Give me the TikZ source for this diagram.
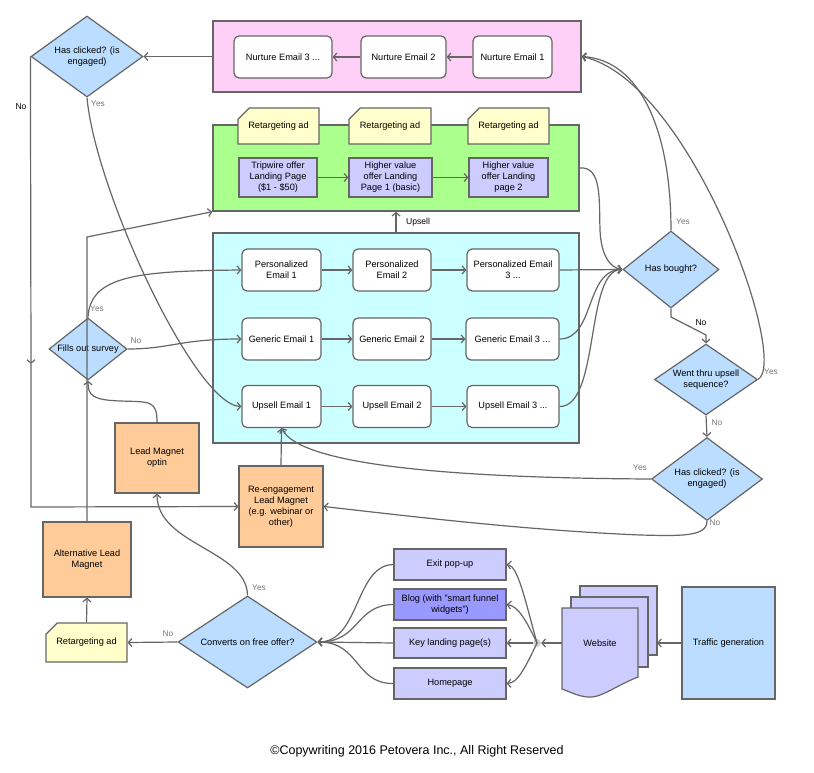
\documentclass[tikz,border=0pt]{standalone}
\usepackage{fontspec}
\setmainfont{Liberation Sans}
\usetikzlibrary{arrows.meta,shapes.geometric,shapes.misc}
\definecolor{ln}{HTML}{666666}
\definecolor{pinkf}{HTML}{FFD0F7}
\definecolor{greenf}{HTML}{ABFF8C}
\definecolor{cyanf}{HTML}{CCFFFF}
\definecolor{lavf}{HTML}{CCCCFF}
\definecolor{blogf}{HTML}{9999FF}
\definecolor{orf}{HTML}{FFCC99}
\definecolor{yelf}{HTML}{FFFFCC}
\definecolor{bluef}{HTML}{BBDDFF}
\definecolor{lblc}{HTML}{777777}
\begin{document}
\begin{tikzpicture}[x=1pt,y=-1pt]
\tikzset{
  every node/.style={font=\fontsize{9.2}{11}\selectfont, text=black},
  lnk/.style={draw=ln, line width=1.2pt, -{Straight Barb[length=3.5pt,width=8pt]}},
  plainln/.style={draw=ln, line width=1.2pt},
  grp/.style={draw=ln, line width=1.5pt, inner sep=0pt},
  mail/.style={draw=ln, line width=1.2pt, fill=white, rounded corners=5pt, align=center, inner sep=0pt},
  dec/.style={shape=diamond, draw=ln, line width=1.2pt, fill=bluef, align=center, inner sep=0pt},
  lavbox/.style={draw=ln, line width=1.2pt, fill=lavf, align=center, inner sep=0pt},
  orbox/.style={draw=ln, line width=1.2pt, fill=orf, align=center, inner sep=0pt},
  adbox/.style={chamfered rectangle, chamfered rectangle corners=north west,
     chamfered rectangle xsep=11pt, chamfered rectangle ysep=7pt,
     draw=ln, line width=1.2pt, fill=yelf, align=center, inner sep=0pt},
  lbl/.style={font=\fontsize{8.3}{9}\selectfont, text=lblc},
  lblk/.style={font=\fontsize{8.6}{9}\selectfont, text=black},
}
\useasboundingbox (0,0) rectangle (814,773);
\fill[white] (0,0) rectangle (814,773);

% groups
\node[grp, fill=pinkf, minimum width=368pt, minimum height=71pt] (pinkg) at (397,56.5) {};
\node[grp, fill=greenf, minimum width=366pt, minimum height=86pt] (green) at (396,168) {};
\node[grp, fill=cyanf, minimum width=366pt, minimum height=210pt] (cyan) at (396,338) {};

% nurture
\node[mail, minimum width=98pt, minimum height=42pt] (n3) at (283,57) {Nurture Email 3 ...};
\node[mail, minimum width=85pt, minimum height=42pt] (n2) at (403.5,57) {Nurture Email 2};
\node[mail, minimum width=79pt, minimum height=42pt] (n1) at (512.5,57) {Nurture Email 1};

% retargeting ads
\node[adbox, minimum width=81pt, minimum height=36pt] (ad1) at (278.5,126) {Retargeting ad};
\node[adbox, minimum width=82pt, minimum height=36pt] (ad2) at (390,126) {Retargeting ad};
\node[adbox, minimum width=81pt, minimum height=36pt] (ad3) at (508.5,126) {Retargeting ad};

% landing pages
\node[lavbox, minimum width=78pt, minimum height=39pt] (tw) at (278,177.5) {Tripwire offer\\Landing Page\\(\$1 - \$50)};
\node[lavbox, minimum width=83pt, minimum height=39pt] (hv1) at (390.5,177.5) {Higher value\\offer Landing\\Page 1 (basic)};
\node[lavbox, minimum width=79pt, minimum height=39pt] (hv2) at (508.5,177.5) {Higher value\\offer Landing\\page 2};

% emails
\node[mail, minimum width=79pt, minimum height=42pt] (p1) at (281.5,270) {Personalized\\Email 1};
\node[mail, minimum width=78pt, minimum height=42pt] (p2) at (392,270) {Personalized\\Email 2};
\node[mail, minimum width=92pt, minimum height=42pt] (p3) at (513,270) {Personalized Email\\3 ...};
\node[mail, minimum width=79pt, minimum height=42pt] (g1) at (281.5,339) {Generic Email 1};
\node[mail, minimum width=78pt, minimum height=42pt] (g2) at (392,339) {Generic Email 2};
\node[mail, minimum width=93pt, minimum height=42pt] (g3) at (512.5,339) {Generic Email 3 ...};
\node[mail, minimum width=79pt, minimum height=42pt] (u1) at (281.5,406.5) {Upsell Email 1};
\node[mail, minimum width=78pt, minimum height=42pt] (u2) at (392,406.5) {Upsell Email 2};
\node[mail, minimum width=92pt, minimum height=42pt] (u3) at (513,406.5) {Upsell Email 3 ...};

% decisions
\node[dec, shape aspect=1.38, minimum width=112pt, minimum height=81pt] (hc1) at (87,56.5) {Has clicked? (is\\engaged)};
\node[dec, shape aspect=1.26, minimum width=78pt, minimum height=62pt] (fos) at (88,349) {Fills out survey};
\node[dec, shape aspect=1.25, minimum width=96pt, minimum height=77pt] (hb) at (671,269.5) {Has bought?};
\node[dec, shape aspect=1.45, minimum width=103pt, minimum height=71pt] (wt) at (706,379.5) {Went thru upsell\\sequence?};
\node[dec, shape aspect=1.34, minimum width=111pt, minimum height=83pt] (hc2) at (707,479) {Has clicked? (is\\engaged)};
\node[dec, shape aspect=1.51, minimum width=139pt, minimum height=92pt] (cv) at (247.5,642) {Converts on free offer?};

% lead magnets
\node[orbox, minimum width=84pt, minimum height=70pt] (lmo) at (157,458) {Lead Magnet\\optin};
\node[orbox, minimum width=84pt, minimum height=81pt] (reng) at (281,506.5) {Re-engagement\\Lead Magnet\\(e.g. webinar or\\other)};
\node[orbox, minimum width=88pt, minimum height=75pt] (alt) at (87,559.5) {Alternative Lead\\Magnet};
\node[adbox, minimum width=81pt, minimum height=39pt] (ad4) at (86.5,642.5) {Retargeting ad};

% website entry pages
\node[lavbox, minimum width=112pt, minimum height=31pt] (ex) at (450,564.5) {Exit pop-up};
\node[lavbox, fill=blogf, minimum width=112pt, minimum height=31pt] (blog) at (450,604.5) {Blog (with "smart funnel\\widgets")};
\node[lavbox, minimum width=112pt, minimum height=30pt] (key) at (450,643) {Key landing page(s)};
\node[lavbox, minimum width=112pt, minimum height=31pt] (home) at (450,683.5) {Homepage};
\node[draw=ln, line width=1.2pt, fill=bluef, minimum width=93pt, minimum height=112pt, inner sep=0pt] (traffic) at (728.5,643) {Traffic generation};

% website multi document
\filldraw[draw=ln, line width=1.2pt, fill=lavf] (580,586) rectangle (657,655);
\filldraw[draw=ln, line width=1.2pt, fill=lavf] (571,597) rectangle (648,667);
\filldraw[draw=ln, line width=1.2pt, fill=lavf] (562,608) -- (638,608) -- (638,677)
   .. controls (615,686) and (600,699) .. (587,697)
   .. controls (578,696) and (570,692) .. (562,689) -- cycle;
\node (web) at (600,643) {Website};
\coordinate (webR) at (657,643);
\coordinate (webL) at (562,643);
\node[circle, fill=black!18, minimum size=8pt, inner sep=0pt] (jn) at (537,643) {};

% --- connectors ---
\draw[lnk] (n1) -- (n2);
\draw[lnk] (n2) -- (n3);
\draw[lnk] (pinkg.west) -- (hc1.east);
\coordinate (nomid) at (31,364);
\coordinate (nocorner) at (31,507);
\draw[lnk] (hc1.west) -- (nomid);
\draw[lnk] (nomid) -- (nocorner) -- (reng.west);
\node[lblk] at (21,107) {No};
\draw[lnk] (hc1.south) .. controls (95,190) and (195,405) .. (u1.west);
\node[lbl] at (98,104) {Yes};

\draw[lnk] (tw) -- (hv1);
\draw[lnk] (hv1) -- (hv2);
\draw[lnk] (cyan.north) -- (green.south);
\node[lblk] at (418,222) {Upsell};
\coordinate (altbend) at (87,237);
\draw[lnk] (alt.north) -- (altbend) -- (green.south west);
\draw[lnk] (lmo.north) .. controls (157,400) and (150,402) .. (120,401) .. controls (92,400) and (88,395) .. (fos.south);
\draw[lnk] (fos.north) .. controls (90,275) and (140,271) .. (p1.west);
\node[lbl] at (97,309) {Yes};
\draw[lnk] (fos.east) .. controls (170,349) and (180,339) .. (g1.west);
\node[lbl] at (136,341) {No};

\draw[lnk] (p1) -- (p2);
\draw[lnk] (p2) -- (p3);
\draw[lnk] (g1) -- (g2);
\draw[lnk] (g2) -- (g3);
\draw[lnk] (u1) -- (u2);
\draw[lnk] (u2) -- (u3);

\draw[lnk] (green.east) .. controls (602,166) and (599,200) .. (600,230) .. controls (601,255) and (610,268) .. (hb.west);
\draw[lnk] (p3.east) -- (hb.west);
\draw[lnk] (g3.east) .. controls (595,339) and (585,270) .. (hb.west);
\draw[lnk] (u3.east) .. controls (600,407) and (585,270) .. (hb.west);

\draw[lnk] (hb.north) .. controls (671,130) and (640,60) .. (pinkg.east);
\node[lbl] at (683,222) {Yes};
\draw[lnk] (wt.east) .. controls (790,360) and (690,80) .. (pinkg.east);
\node[lbl] at (771,372) {Yes};
\coordinate (hbn1) at (671,317);
\coordinate (hbn2) at (706,335);
\draw[lnk] (hb.south) -- (hbn1) -- (hbn2) -- (wt.north);
\node[lblk] at (701,323) {No};
\draw[lnk] (wt.south) -- (hc2.north);
\node[lbl] at (717,423) {No};
\draw[lnk] (hc2.west) .. controls (450,478) and (300,465) .. (u1.south);
\node[lbl] at (640,468) {Yes};
\draw[lnk] (hc2.south) .. controls (707,537) and (680,536) .. (640,535) .. controls (520,530) and (400,515) .. (reng.east);
\node[lbl] at (715,523) {No};
\draw[lnk] (reng.north) -- (u1.south);

\draw[lnk] (cv.north) .. controls (247,550) and (157,545) .. (lmo.south);
\node[lbl] at (259,588) {Yes};
\draw[lnk] (cv.west) -- (ad4.east);
\node[lbl] at (168,634) {No};
\draw[lnk] (ad4.north) -- (alt.south);

\draw[lnk] (traffic.west) -- (webR);
\draw[lnk] (webL) -- (jn.east);
\draw[lnk] (jn.center) .. controls (525,600) and (518,566) .. (ex.east);
\draw[lnk] (jn.center) .. controls (526,620) and (518,606) .. (blog.east);
\draw[lnk] (jn.west) -- (key.east);
\draw[lnk] (jn.center) .. controls (526,666) and (518,683) .. (home.east);
\draw[lnk] (ex.west) .. controls (355,565) and (360,642) .. (cv.east);
\draw[lnk] (blog.west) .. controls (355,605) and (360,642) .. (cv.east);
\draw[lnk] (key.west) -- (cv.east);
\draw[lnk] (home.west) .. controls (355,684) and (360,642) .. (cv.east);

\node[font=\fontsize{12.5}{14}\selectfont] (copy) at (417,751) {©Copywriting 2016 Petovera Inc., All Right Reserved};
\end{tikzpicture}
\end{document}
